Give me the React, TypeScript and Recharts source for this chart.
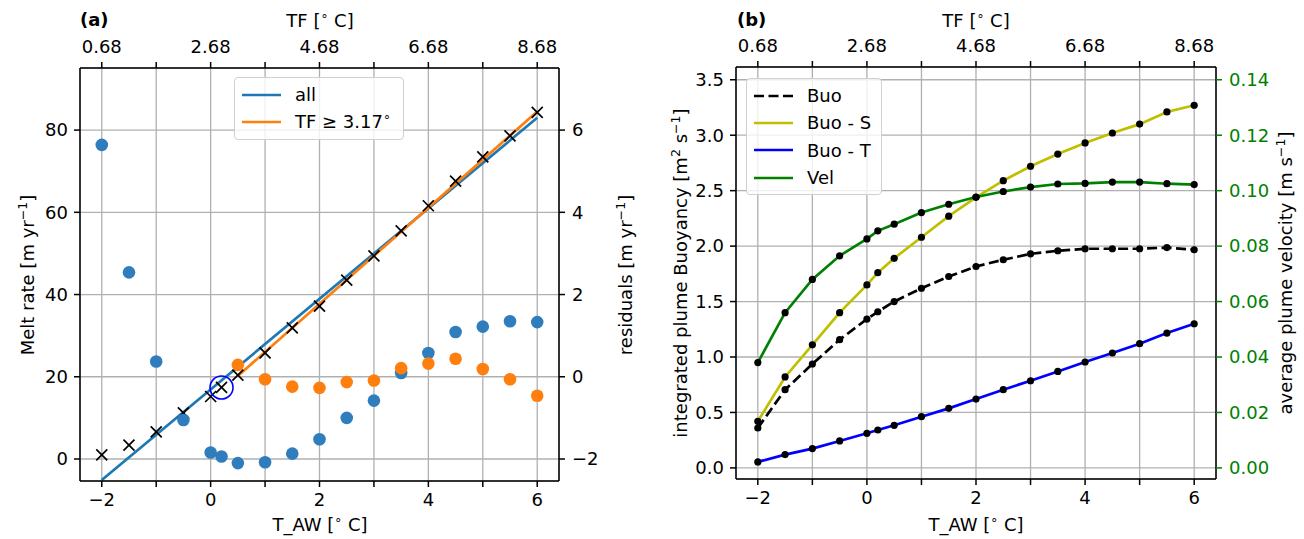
import React from "react";
import { ComposedChart, Line, Scatter, XAxis, YAxis, CartesianGrid } from "recharts";

// shared x values (T_AW in deg C)
const tAw = [-2, -1.5, -1, -0.5, 0, 0.2, 0.5, 1, 1.5, 2, 2.5, 3, 3.5, 4, 4.5, 5, 5.5, 6];

// panel (a)
const meltRate = [1.0, 3.4, 6.6, 11.2, 15.2, 17.4, 20.4, 25.8, 31.9, 37.2, 43.5, 49.4, 55.5, 61.6, 67.6, 73.5, 78.6, 84.3];
const residAll = [5.64, 2.54, 0.37, -1.05, -1.84, -1.94, -2.1, -2.08, -1.87, -1.52, -1.0, -0.58, 0.09, 0.58, 1.09, 1.22, 1.35, 1.33];
const tAwWarm = [0.5, 1, 1.5, 2, 2.5, 3, 3.5, 4, 4.5, 5, 5.5, 6];
const residWarm = [0.29, -0.06, -0.24, -0.27, -0.13, -0.09, 0.21, 0.32, 0.44, 0.19, -0.06, -0.46];
const fitAllX = [-2, 6];
const fitAllY = [-5.1, 83.0];
const fitWarmX = [0.5, 6];
const fitWarmY = [20.2, 84.5];
const refX = [0.2];
const refY = [17.4];

// panel (b)
const buo = [0.36, 0.705, 0.937, 1.156, 1.342, 1.408, 1.5, 1.62, 1.726, 1.816, 1.877, 1.93, 1.958, 1.976, 1.976, 1.976, 1.987, 1.967];
const buoS = [0.42, 0.82, 1.11, 1.4, 1.65, 1.76, 1.89, 2.08, 2.27, 2.44, 2.59, 2.72, 2.83, 2.93, 3.02, 3.1, 3.21, 3.27];
const buoT = [0.054, 0.12, 0.174, 0.243, 0.312, 0.342, 0.384, 0.462, 0.537, 0.621, 0.705, 0.786, 0.87, 0.955, 1.036, 1.12, 1.216, 1.3];
const vel = [0.038, 0.056, 0.068, 0.0765, 0.0826, 0.0855, 0.0879, 0.0921, 0.0951, 0.0977, 0.0997, 0.1013, 0.1024, 0.1026, 0.1031, 0.1031, 0.1025, 0.1022];

// ticks (top axis shows TF = T_AW + 2.68)
const tfOffset = 2.68;
const xTicks = [-2, -1, 0, 1, 2, 3, 4, 5, 6];
const meltTicks = [0, 20, 40, 60, 80];
const residTicks = [-2, 0, 2, 4, 6];
const buoTicks = [0, 0.5, 1, 1.5, 2, 2.5, 3, 3.5];
const velTicks = [0, 0.02, 0.04, 0.06, 0.08, 0.1, 0.12, 0.14];

const pts = (xs: number[], ys: number[]) => xs.map((x, i) => ({ x, y: ys[i] }));
const rowsB = tAw.map((x, i) => ({ x, buo: buo[i], buoS: buoS[i], buoT: buoT[i], vel: vel[i] }));

const FS = 18;
const tickStyle = { fontSize: FS, fill: "#000" };
const axisLine = { stroke: "#000", strokeWidth: 1.5 };
const tickLine = { stroke: "#000", strokeWidth: 1.5 };
const minus = (v: number) => (v < 0 ? "\u2212" + Math.abs(v) : String(v));
const evenOnly = (v: number, i: number) => (i % 2 === 0 ? minus(v) : "");
const topFmt = (v: number, i: number) => (i % 2 === 0 ? (v + tfOffset).toFixed(2) : "");

const XMark = (p: any) => {
  const s = 5.5;
  return (
    <g stroke="#000" strokeWidth={1.7}>
      <line x1={p.cx - s} y1={p.cy - s} x2={p.cx + s} y2={p.cy + s} />
      <line x1={p.cx - s} y1={p.cy + s} x2={p.cx + s} y2={p.cy - s} />
    </g>
  );
};
const Dot = (color: string) => (p: any) => <circle cx={p.cx} cy={p.cy} r={6.3} fill={color} />;
const Ring = (p: any) => <circle cx={p.cx} cy={p.cy} r={11.5} fill="none" stroke="#0000ff" strokeWidth={1.6} />;

const Txt = ({ x, y, rot, bold, left, children }: any) => (
  <div
    style={{
      position: "absolute",
      left: x,
      top: y,
      whiteSpace: "nowrap",
      fontWeight: bold ? 700 : 400,
      fontSize: FS,
      lineHeight: 1,
      transform: `translate(${left ? "0" : "-50%"},-50%)${rot ? " rotate(-90deg)" : ""}`,
    }}
  >
    {children}
  </div>
);
const Sup = ({ children }: any) => <sup style={{ fontSize: "0.7em", lineHeight: 0 }}>{children}</sup>;
const Deg = () => (
  <span>
    [<Sup>{"\u2218"}</Sup> C]
  </span>
);

const LegendBox = ({ x, y, w, items }: any) => (
  <div
    style={{
      position: "absolute",
      left: x,
      top: y,
      width: w,
      padding: "3px 0",
      background: "rgba(255,255,255,0.8)",
      border: "1.3px solid #d0d0d0",
      borderRadius: 4,
      fontSize: FS,
    }}
  >
    {items.map((it: any) => (
      <div key={it.key} style={{ display: "flex", alignItems: "center", height: 27.3 }}>
        <svg width={54} height={10} style={{ marginLeft: 6 }}>
          <line x1={1} y1={5} x2={40} y2={5} stroke={it.color} strokeWidth={2.7} strokeDasharray={it.dash} />
        </svg>
        <span>{it.label}</span>
      </div>
    ))}
  </div>
);

const xAxes = (bottomH: number, topH: number) => [
  <XAxis key="b" xAxisId="b" dataKey="x" type="number" domain={[-2.4, 6.4]} allowDataOverflow ticks={xTicks}
    interval={0} tickFormatter={evenOnly} height={bottomH} tick={tickStyle} tickSize={6} tickMargin={6}
    axisLine={axisLine} tickLine={tickLine} />,
  <XAxis key="t" xAxisId="t" dataKey="x" orientation="top" type="number" domain={[-2.4, 6.4]} allowDataOverflow
    ticks={xTicks} interval={0} tickFormatter={topFmt} height={topH} tick={tickStyle} tickSize={6} tickMargin={9}
    axisLine={axisLine} tickLine={tickLine} />,
];

const PanelA = () => (
  <ComposedChart width={652} height={539} margin={{ top: 0, right: 0, bottom: 0, left: 0 }}>
    <CartesianGrid xAxisId="b" yAxisId="l" stroke="#b0b0b0" strokeWidth={1.3} />
    {xAxes(58, 68)}
    <YAxis yAxisId="l" dataKey="y" type="number" domain={[-5.35, 95.1]} allowDataOverflow ticks={meltTicks}
      width={80} tick={tickStyle} tickSize={6} tickMargin={6} axisLine={axisLine} tickLine={tickLine} />
    <YAxis yAxisId="r" dataKey="y" orientation="right" type="number" domain={[-2.535, 7.51]} allowDataOverflow
      ticks={residTicks} tickFormatter={minus} width={93} tick={tickStyle} tickSize={6} tickMargin={7}
      axisLine={axisLine} tickLine={tickLine} />
    <Scatter xAxisId="b" yAxisId="l" data={pts(tAw, meltRate)} dataKey="y" shape={XMark} isAnimationActive={false} />
    <Line xAxisId="b" yAxisId="l" data={pts(fitAllX, fitAllY)} dataKey="y" stroke="#1f77b4" strokeWidth={2.7}
      dot={false} isAnimationActive={false} />
    <Line xAxisId="b" yAxisId="l" data={pts(fitWarmX, fitWarmY)} dataKey="y" stroke="#ff7f0e" strokeWidth={2.7}
      dot={false} isAnimationActive={false} />
    <Scatter xAxisId="b" yAxisId="l" data={pts(refX, refY)} dataKey="y" shape={Ring} isAnimationActive={false} />
    <Scatter xAxisId="t" yAxisId="r" data={pts(tAw, residAll)} dataKey="y" shape={Dot("#2f7dbd")} isAnimationActive={false} />
    <Scatter xAxisId="t" yAxisId="r" data={pts(tAwWarm, residWarm)} dataKey="y" shape={Dot("#ff7f0e")} isAnimationActive={false} />
  </ComposedChart>
);

const blackDot = { r: 3.6, fill: "#000", stroke: "#000", strokeWidth: 0 };

const PanelB = () => (
  <ComposedChart width={652} height={539} data={rowsB} margin={{ top: 0, right: 0, bottom: 0, left: 0 }}>
    <CartesianGrid xAxisId="b" yAxisId="l" stroke="#b0b0b0" strokeWidth={1.3} />
    {xAxes(60, 67)}
    <YAxis yAxisId="l" type="number" domain={[-0.1, 3.615]} allowDataOverflow ticks={buoTicks}
      tickFormatter={(v: number) => v.toFixed(1)} width={84} tick={tickStyle} tickSize={6} tickMargin={6}
      axisLine={axisLine} tickLine={tickLine} />
    <YAxis yAxisId="r" orientation="right" type="number" domain={[-0.004, 0.1446]} allowDataOverflow
      ticks={velTicks} tickFormatter={(v: number) => v.toFixed(2)} width={88}
      tick={{ fontSize: FS, fill: "#008000" }} tickSize={6} tickMargin={7} axisLine={axisLine}
      tickLine={{ stroke: "#008000", strokeWidth: 1.5 }} />
    <Line xAxisId="b" yAxisId="l" dataKey="buo" stroke="#000" strokeWidth={2.7} strokeDasharray="10 4.5"
      dot={blackDot} isAnimationActive={false} />
    <Line xAxisId="b" yAxisId="l" dataKey="buoS" stroke="#bfbf00" strokeWidth={2.7} dot={blackDot} isAnimationActive={false} />
    <Line xAxisId="b" yAxisId="l" dataKey="buoT" stroke="#0000ff" strokeWidth={2.7} dot={blackDot} isAnimationActive={false} />
    <Line xAxisId="t" yAxisId="r" dataKey="vel" stroke="#008000" strokeWidth={2.7} dot={blackDot} isAnimationActive={false} />
  </ComposedChart>
);

export default function App() {
  return (
    <div style={{ position: "absolute", left: 0, top: 0, width: 1304, height: 539, background: "#fff", fontFamily: "DejaVu Sans", color: "#000" }}>
      <div style={{ position: "absolute", left: 0, top: 0 }}>
        <PanelA />
      </div>
      <div style={{ position: "absolute", left: 652, top: 0 }}>
        <PanelB />
      </div>

      <Txt x={80} y={20} bold left>(a)</Txt>
      <Txt x={320} y={21}>TF <Deg /></Txt>
      <Txt x={320} y={525}>T_AW <Deg /></Txt>
      <Txt x={28} y={275} rot>Melt rate [m yr<Sup>{"\u2212"}1</Sup>]</Txt>
      <Txt x={626} y={275} rot>residuals [m yr<Sup>{"\u2212"}1</Sup>]</Txt>
      <LegendBox x={234} y={77} w={168} items={[
        { key: "all", label: "all", color: "#1f77b4" },
        { key: "tf", label: <span>TF ≥ 3.17<Sup>{"\u2218"}</Sup></span>, color: "#ff7f0e" },
      ]} />

      <Txt x={737} y={20} bold left>(b)</Txt>
      <Txt x={976} y={21}>TF <Deg /></Txt>
      <Txt x={976} y={525}>T_AW <Deg /></Txt>
      <Txt x={681} y={273} rot>integrated plume Buoyancy [m<Sup>2</Sup> s<Sup>{"\u2212"}1</Sup>]</Txt>
      <Txt x={1286} y={273} rot>average plume velocity [m s<Sup>{"\u2212"}1</Sup>]</Txt>
      <LegendBox x={746} y={78} w={134} items={[
        { key: "buo", label: "Buo", color: "#000", dash: "10 4.5" },
        { key: "buoS", label: "Buo - S", color: "#bfbf00" },
        { key: "buoT", label: "Buo - T", color: "#0000ff" },
        { key: "vel", label: "Vel", color: "#008000" },
      ]} />
    </div>
  );
}
